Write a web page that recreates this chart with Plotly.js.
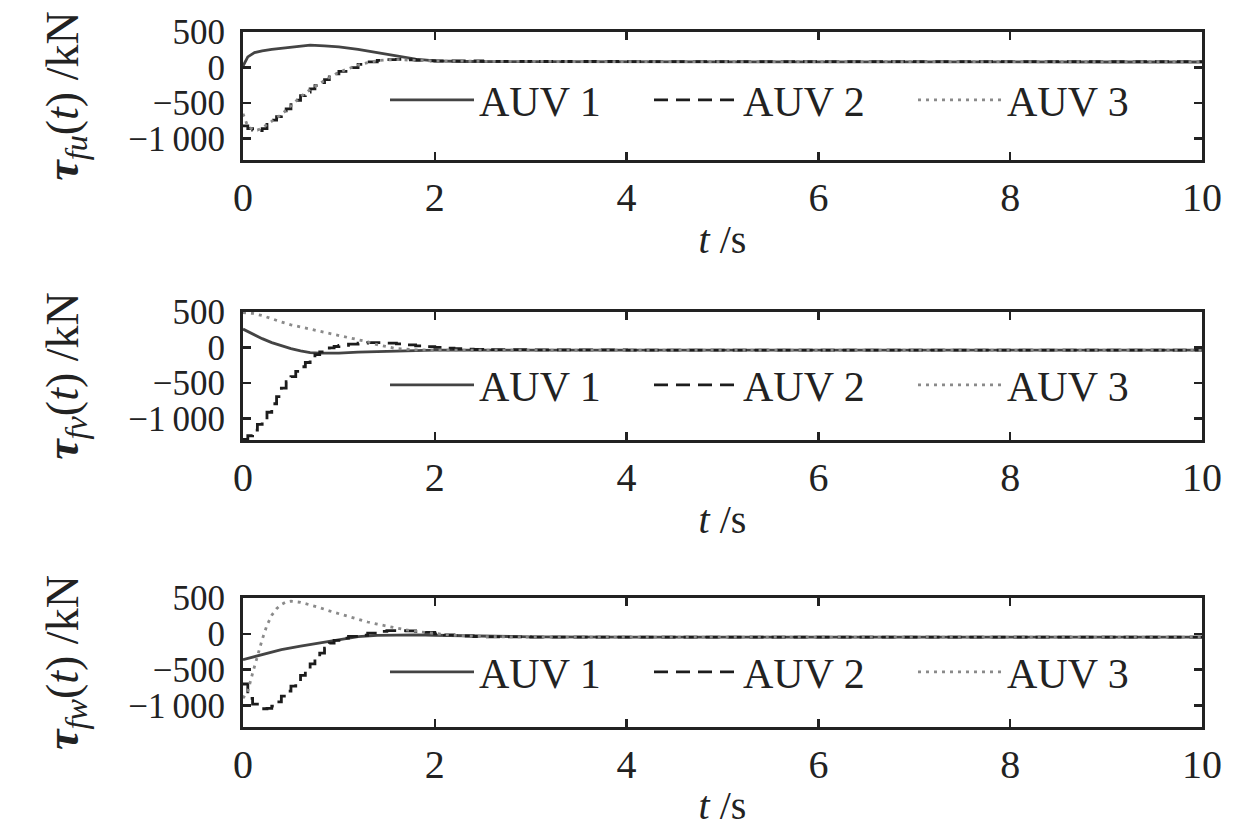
<!DOCTYPE html>
<html>
<head>
<meta charset="utf-8">
<script src="https://cdn.plot.ly/plotly-3.0.1.min.js"></script>
<style>html,body{margin:0;padding:0;background:#fff;}#chart{width:1260px;height:828px;}</style>
</head>
<body>
<div id="chart"></div>
<script>
// ---------- data ----------
var seriesNames = ['AUV 1', 'AUV 2', 'AUV 3'];
var xTicks = [0, 2, 4, 6, 8, 10];
var yTickVals = [-1000, -500, 0, 500];
var yTickText = ['\u22121\u2009000', '\u2212500', '0', '500'];
var panelTitles = [
  '<b><i>\u03c4</i></b><sub><i>fu</i></sub>(<i>t</i>) /kN',
  '<b><i>\u03c4</i></b><sub><i>fv</i></sub>(<i>t</i>) /kN',
  '<b><i>\u03c4</i></b><sub><i>fw</i></sub>(<i>t</i>) /kN'
];

// panel 1: tau_fu
var fu1_t = [0, 0.05, 0.12, 0.2, 0.3, 0.45, 0.6, 0.7, 0.85, 1.0, 1.2, 1.4, 1.6, 1.8, 2.0, 2.3, 3, 4, 5, 6, 7, 8, 9, 10];
var fu1_v = [20, 150, 210, 235, 255, 280, 305, 315, 305, 290, 255, 210, 165, 120, 95, 85, 82, 80, 80, 78, 78, 78, 78, 78];
var fu2_t = [0, 0.05, 0.1, 0.15, 0.2, 0.25, 0.3, 0.35, 0.4, 0.45, 0.5, 0.55, 0.6, 0.65, 0.7, 0.75, 0.8, 0.85, 0.9, 0.95, 1.0, 1.1, 1.2, 1.3, 1.4, 1.5, 1.6, 1.7, 1.8, 1.9, 2.0, 2.5, 3, 4, 5, 6, 7, 8, 9, 10];
var fu2_v = [-820, -860, -880, -885, -860, -800, -740, -690, -640, -580, -520, -460, -395, -345, -300, -255, -212, -170, -130, -90, -55, 0, 45, 80, 100, 112, 115, 110, 102, 96, 92, 87, 85, 84, 83, 83, 82, 82, 82, 82];
var fu3_t = [0, 0.05, 0.1, 0.15, 0.2, 0.3, 0.4, 0.5, 0.6, 0.7, 0.8, 0.9, 1.0, 1.1, 1.2, 1.3, 1.4, 1.5, 1.6, 1.8, 2.0, 2.5, 3, 4, 5, 6, 7, 8, 9, 10];
var fu3_v = [-650, -830, -870, -880, -850, -760, -660, -540, -410, -310, -220, -140, -65, -10, 35, 70, 95, 108, 112, 102, 93, 87, 84, 84, 84, 84, 84, 84, 84, 84];

// panel 2: tau_fv
var fv1_t = [0, 0.1, 0.2, 0.3, 0.4, 0.5, 0.6, 0.7, 0.8, 0.9, 1.0, 1.2, 1.5, 2.0, 2.5, 3, 4, 5, 6, 7, 8, 9, 10];
var fv1_v = [260, 190, 125, 70, 25, -15, -45, -70, -78, -80, -78, -65, -50, -35, -35, -36, -37, -37, -37, -37, -37, -37, -37];
var fv2_t = [0, 0.05, 0.1, 0.15, 0.2, 0.25, 0.3, 0.35, 0.4, 0.45, 0.5, 0.55, 0.6, 0.65, 0.7, 0.75, 0.8, 0.85, 0.9, 0.95, 1.0, 1.1, 1.2, 1.3, 1.4, 1.5, 1.6, 1.7, 1.8, 1.9, 2.0, 2.1, 2.2, 2.3, 2.4, 2.5, 3, 4, 5, 6, 7, 8, 9, 10];
var fv2_v = [-1290, -1240, -1160, -1080, -1010, -910, -790, -690, -570, -480, -410, -335, -270, -210, -150, -100, -60, -30, -5, 15, 30, 48, 62, 70, 70, 63, 52, 38, 25, 12, 2, -8, -16, -22, -27, -30, -34, -37, -37, -37, -37, -37, -37, -37];
var fv3_t = [0, 0.1, 0.2, 0.3, 0.4, 0.5, 0.6, 0.7, 0.8, 0.9, 1.0, 1.1, 1.2, 1.3, 1.4, 1.5, 1.6, 1.8, 2.0, 2.5, 3, 4, 5, 6, 7, 8, 9, 10];
var fv3_v = [490, 480, 450, 400, 360, 320, 290, 255, 225, 195, 165, 140, 112, 80, 40, 10, -15, -32, -37, -38, -38, -38, -38, -38, -38, -38, -38, -38];

// panel 3: tau_fw
var fw1_t = [0, 0.2, 0.4, 0.6, 0.8, 1.0, 1.2, 1.4, 1.6, 1.8, 2.0, 2.5, 3, 4, 5, 6, 7, 8, 9, 10];
var fw1_v = [-360, -290, -220, -170, -125, -75, -40, -22, -15, -15, -20, -35, -42, -47, -47, -47, -47, -47, -47, -47];
var fw2_t = [0, 0.05, 0.1, 0.15, 0.2, 0.25, 0.3, 0.35, 0.4, 0.45, 0.5, 0.55, 0.6, 0.65, 0.7, 0.75, 0.8, 0.85, 0.9, 0.95, 1.0, 1.1, 1.2, 1.3, 1.4, 1.5, 1.6, 1.7, 1.8, 1.9, 2.0, 2.1, 2.2, 2.3, 2.4, 2.5, 3, 4, 5, 6, 7, 8, 9, 10];
var fw2_v = [-700, -900, -980, -1030, -1045, -1040, -1010, -950, -870, -800, -730, -660, -580, -500, -420, -340, -270, -200, -130, -90, -60, -35, -20, 10, 35, 45, 45, 40, 32, 20, 0, -15, -22, -30, -37, -42, -46, -47, -47, -47, -47, -47, -47, -47];
var fw3_t = [0, 0.05, 0.1, 0.15, 0.2, 0.25, 0.3, 0.35, 0.4, 0.45, 0.5, 0.6, 0.7, 0.8, 0.9, 1.0, 1.1, 1.2, 1.3, 1.4, 1.5, 1.6, 1.7, 1.8, 1.9, 2.0, 2.2, 2.5, 3, 4, 5, 6, 7, 8, 9, 10];
var fw3_v = [-900, -800, -550, -300, -80, 120, 260, 350, 410, 445, 455, 440, 405, 365, 320, 280, 240, 205, 165, 135, 105, 80, 55, 35, 18, 5, -20, -38, -45, -47, -47, -47, -47, -47, -47, -47];

// ---------- styling ----------
var FONT = '"Liberation Serif", "Times New Roman", serif';
var INK = '#222222';
var styles = [
  {color: '#444444', dash: 'solid', shape: 'linear'},
  {color: '#1c1c1c', dash: '14px,8px', shape: 'hv'},
  {color: '#8a8a8a', dash: '3px,5px', shape: 'linear'}
];
var panels = [
  {t: [fu1_t, fu2_t, fu3_t], v: [fu1_v, fu2_v, fu3_v]},
  {t: [fv1_t, fv2_t, fv3_t], v: [fv1_v, fv2_v, fv3_v]},
  {t: [fw1_t, fw2_t, fw3_t], v: [fw1_v, fw2_v, fw3_v]}
];
var W = 1260, H = 828;
var xDom = [243 / W, 1202 / W];
var yPix = [[32, 160], [312, 440], [598, 727]];
var legendY = [100, 385, 672];

var traces = [];
var layout = {
  width: W, height: H,
  margin: {l: 0, r: 0, t: 0, b: 0},
  paper_bgcolor: '#ffffff', plot_bgcolor: '#ffffff',
  font: {family: FONT, color: INK},
  showlegend: true
};

panels.forEach(function (p, i) {
  var n = i + 1;
  var sfx = (n === 1 ? '' : String(n));
  var lg = 'legend' + sfx;
  for (var k = 0; k < 3; k++) {
    traces.push({
      type: 'scatter', mode: 'lines',
      x: p.t[k], y: p.v[k], name: seriesNames[k],
      xaxis: 'x' + sfx, yaxis: 'y' + sfx,
      legend: lg,
      line: {color: styles[k].color, dash: styles[k].dash, width: 2.8, shape: styles[k].shape},
      hoverinfo: 'skip'
    });
  }
  layout['xaxis' + sfx] = {
    domain: xDom, anchor: 'y' + sfx,
    range: [0, 10], tickvals: xTicks, ticks: 'inside', ticklen: 8, tickwidth: 2.5, tickcolor: INK,
    showline: true, linewidth: 3, linecolor: INK, mirror: 'ticks',
    showgrid: false, zeroline: false,
    tickfont: {family: FONT, size: 40, color: INK},
    ticklabelstandoff: 0,
    title: {text: '<i>t</i> /s', font: {family: FONT, size: 40, color: INK}, standoff: 6}
  };
  layout['yaxis' + sfx] = {
    domain: [1 - yPix[i][1] / H, 1 - yPix[i][0] / H], anchor: 'x' + sfx,
    range: [-1300, 500], tickvals: yTickVals, ticktext: yTickText,
    ticks: 'inside', ticklen: 8, tickwidth: 2.5, tickcolor: INK,
    showline: true, linewidth: 3, linecolor: INK, mirror: 'ticks',
    showgrid: false, zeroline: false,
    tickfont: {family: FONT, size: 35, color: INK},
    ticklabelstandoff: 8,
    title: {text: panelTitles[i], font: {family: FONT, size: 46, color: INK}, standoff: 36}
  };
  layout[lg] = {
    orientation: 'h', x: 385 / W, xanchor: 'left', y: 1 - legendY[i] / H, yanchor: 'middle',
    bgcolor: 'rgba(0,0,0,0)', borderwidth: 0,
    font: {family: FONT, size: 42, color: INK},
    entrywidth: 165, entrywidthmode: 'pixels', itemwidth: 84,
    itemclick: false, itemdoubleclick: false
  };
});

Plotly.newPlot('chart', traces, layout, {staticPlot: true, displayModeBar: false});
</script>
</body>
</html>
